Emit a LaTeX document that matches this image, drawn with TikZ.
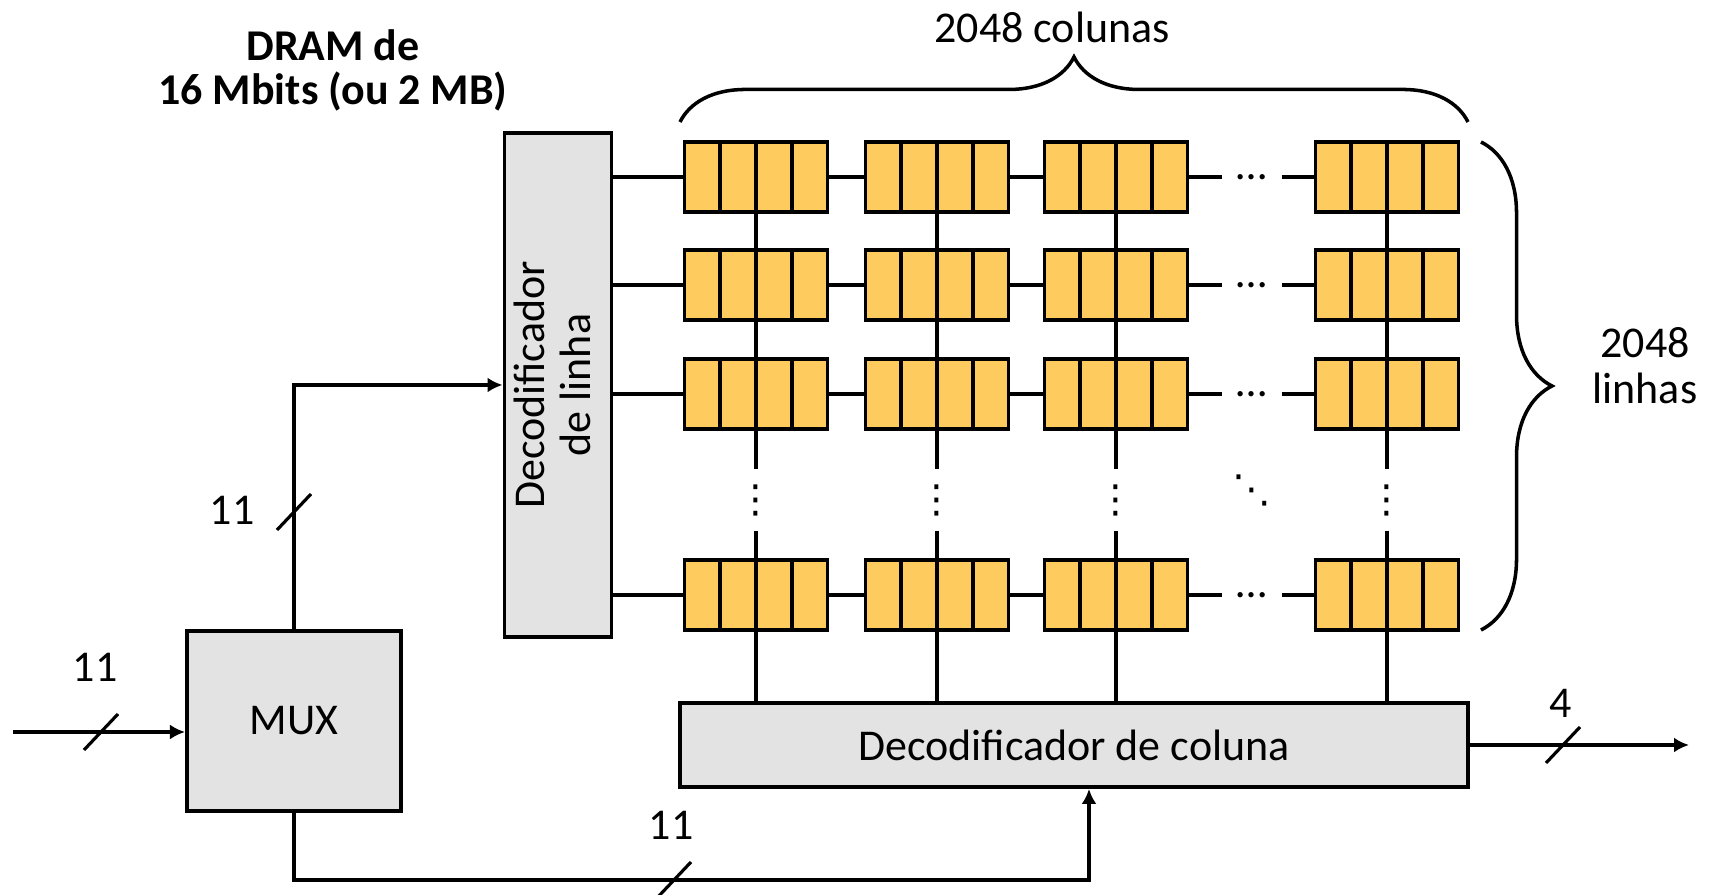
\documentclass[tikz,border=0pt]{standalone}
\usepackage{fontspec}
\setmainfont{Carlito}
\newfontfamily\simbolos{DejaVu Sans}
\usepackage{graphicx}
\usetikzlibrary{arrows.meta,decorations.pathreplacing,positioning}
\definecolor{amarelo}{RGB}{254,203,95}
\definecolor{cinza}{RGB}{227,227,227}
\newcommand{\barra}[1]{\draw[fio] ([shift={(-17,18)}]#1) -- ([shift={(17,-18)}]#1);}

\begin{document}
\begin{tikzpicture}[x=0.01cm,y=-0.01cm,
	font=\fontsize{12.5}{13}\selectfont,
	fio/.style={line width=0.9pt},
	seta/.style={fio,-{Latex[length=1.5mm,width=1.5mm]}},
	caixa/.style={draw,fill=cinza,line width=1.1pt,inner sep=0},
	cela/.style={draw,fill=amarelo,line width=1.1pt,inner sep=0,
		minimum width=1.43cm,minimum height=0.70cm,
		path picture={\foreach \k in {1,2,3}
			\draw[line width=1.1pt] ([xshift=\k*0.3575cm]path picture bounding box.south west)
			-- ([xshift=\k*0.3575cm]path picture bounding box.north west);}},
	pontos/.style={inner sep=0,font=\simbolos\fontsize{11}{11}\selectfont},
	chave/.style={decorate,decoration={brace,amplitude=#1},line width=1pt}]
	
	\useasboundingbox (0,0) rectangle (1714,895);
	
	% matriz de celulas
	\foreach \i/\y in {1/177,2/285,3/394,4/595}{%
		\foreach \j/\x in {1/756,2/937,3/1116,4/1387}{\node[cela] (c\i-\j) at (\x,\y) {};}
		\node[inner sep=0,minimum width=0.58cm] (hd\i) at (1252,\y) {…};}
	\foreach \j/\x in {1/756,2/937,3/1116,4/1387}
		\node[pontos,minimum height=0.6cm] (vd\j) at (\x,500) {⋮};
	\node[pontos] (dd) at (1252,490) {⋱};
	
	\node[caixa,minimum width=1.07cm,minimum height=5.03cm] (dl) at (558,385)
		{\rotatebox{90}{\begin{tabular}{@{}c@{}}Decodificador\\de linha\end{tabular}}};
	\node[caixa,minimum width=7.88cm,minimum height=0.84cm] (dc) at (1074,745) {Decodificador de coluna};
	\node[caixa,minimum width=2.14cm,minimum height=1.80cm] (mux) at (294,721) {MUX};
	
	% linhas e colunas
	\foreach \i in {1,...,4}{%
		\draw[fio] (c\i-1.west -| dl.east) -- (c\i-1.west);
		\draw[fio] (c\i-1.east) -- (c\i-2.west);
		\draw[fio] (c\i-2.east) -- (c\i-3.west);
		\draw[fio] (c\i-3.east) -- (hd\i.west);
		\draw[fio] (hd\i.east) -- (c\i-4.west);}
	\foreach \j in {1,...,4}{%
		\draw[fio] (c1-\j.south) -- (c2-\j.north);
		\draw[fio] (c2-\j.south) -- (c3-\j.north);
		\draw[fio] (c3-\j.south) -- (vd\j.north);
		\draw[fio] (vd\j.south) -- (c4-\j.north);
		\draw[fio] (c4-\j.south) -- (c4-\j.south |- dc.north);}
	
	% enderecos
	\coordinate (ent) at (13,732);
	\coordinate (cdin) at (1089,880);
	\coordinate (sai) at (1689,745);
	\draw[seta] (ent) -- (ent -| mux.west);
	\draw[seta] (mux.north) |- (dl.west);
	\draw[seta] (mux.south) |- (cdin) -- (cdin |- dc.south);
	\draw[seta] (dc.east) -- (sai);
	\coordinate (b1) at (101,732);
	\coordinate (b2) at (294,512);
	\coordinate (b3) at (674,880);
	\coordinate (b4) at (1563,745);
	\foreach \b in {b1,b2,b3,b4}{\barra{\b}}
	\node (n1) at (95,667) {11};
	\node (n2) at (232,510) {11};
	\node (n3) at (671,825) {11};
	\node (n4) at (1561,703) {4};
	
	% chaves
	\draw[chave=0.65cm] (680,122) -- (1468,122);
	\draw[chave=0.71cm] (1481,142) -- (1481,630);
	\node (tc) at (1052,27) {2048 colunas};
	\node[align=center] (tl) at (1645,366) {2048\\linhas};
	\node[align=center,font=\fontsize{12.5}{12.5}\selectfont\bfseries] (tit) at (333,70) {DRAM de\\16 Mbits (ou 2 MB)};
\end{tikzpicture}
\end{document}
